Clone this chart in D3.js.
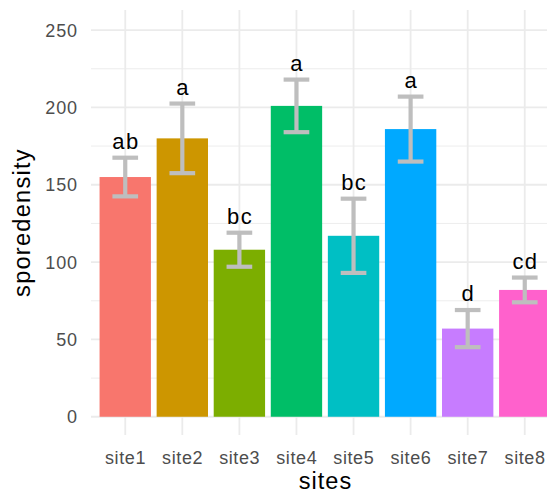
<!DOCTYPE html>
<html>
<head>
<meta charset="utf-8">
<script src="https://cdn.jsdelivr.net/npm/d3@7"></script>
<style>
  body { margin: 0; background: #fff; }
  svg { display: block; font-family: "Liberation Sans", Arial, sans-serif; }
</style>
</head>
<body>
<script>
// chart data
var sites = ["site1", "site2", "site3", "site4", "site5", "site6", "site7", "site8"];
var means = [155, 180, 108, 201, 117, 186, 57, 82];
var errors = [12.5, 22.5, 11, 17, 24, 21, 12, 8];
var letters = ["ab", "a", "bc", "a", "bc", "a", "d", "cd"];
var colors = ["#F8766D", "#CD9600", "#7CAE00", "#00BE67", "#00BFC4", "#00A9FF", "#C77CFF", "#FF61CC"];
var yTicks = [0, 50, 100, 150, 200, 250];
var yMinor = [25, 75, 125, 175, 225];

var width = 547, height = 494;
var panel = { left: 91, top: 10, right: 559, bottom: 435 };

var svg = d3.select("body").append("svg")
    .attr("width", width)
    .attr("height", height);

// ggplot's discrete axis: 0.6 units on each side
var step = (panel.right - panel.left) / (sites.length + 0.2);
var x = d3.scaleBand()
    .domain(sites)
    .range([panel.left + 0.1 * step, panel.right - 0.1 * step])
    .padding(0);

var y = d3.scaleLinear()
    .domain([-11.8, 263])
    .range([panel.bottom, panel.top]);

function cx(d) { return x(d) + x.bandwidth() / 2; }

var grid = svg.append("g");

grid.selectAll(".minor")
  .data(yMinor)
  .enter().append("line")
    .attr("x1", panel.left).attr("x2", panel.right)
    .attr("y1", function(d) { return y(d); })
    .attr("y2", function(d) { return y(d); })
    .attr("stroke", "#EBEBEB")
    .attr("stroke-width", 0.9);

grid.selectAll(".major")
  .data(yTicks)
  .enter().append("line")
    .attr("x1", panel.left).attr("x2", panel.right)
    .attr("y1", function(d) { return y(d); })
    .attr("y2", function(d) { return y(d); })
    .attr("stroke", "#EBEBEB")
    .attr("stroke-width", 1.8);

grid.selectAll(".vmajor")
  .data(sites)
  .enter().append("line")
    .attr("x1", cx).attr("x2", cx)
    .attr("y1", panel.top).attr("y2", panel.bottom)
    .attr("stroke", "#EBEBEB")
    .attr("stroke-width", 1.8);

var barW = x.bandwidth() * 0.9;
var capW = x.bandwidth() * 0.45;

svg.selectAll(".bar")
  .data(sites)
  .enter().append("rect")
    .attr("x", function(d) { return cx(d) - barW / 2; })
    .attr("width", barW)
    .attr("y", function(d, i) { return y(means[i]); })
    .attr("height", function(d, i) { return y(0) - y(means[i]); })
    .attr("fill", function(d, i) { return colors[i]; });

var eb = svg.append("g")
    .attr("stroke", "#BEBEBE")
    .attr("stroke-width", 4.2);

sites.forEach(function(s, i) {
  var c = cx(s);
  var hi = y(means[i] + errors[i]), lo = y(means[i] - errors[i]);
  eb.append("line").attr("x1", c).attr("x2", c).attr("y1", hi).attr("y2", lo);
  eb.append("line").attr("x1", c - capW / 2).attr("x2", c + capW / 2).attr("y1", hi).attr("y2", hi);
  eb.append("line").attr("x1", c - capW / 2).attr("x2", c + capW / 2).attr("y1", lo).attr("y2", lo);
});

svg.selectAll(".letter")
  .data(letters)
  .enter().append("text")
    .attr("x", function(d, i) { return cx(sites[i]) + 0.7; })
    .attr("y", function(d, i) { return y(means[i] + errors[i]) - 9; })
    .attr("text-anchor", "middle")
    .attr("font-size", 22)
    .attr("letter-spacing", 1.4)
    .attr("fill", "#000")
    .text(function(d) { return d; });

// axes
svg.selectAll(".ytick")
  .data(yTicks)
  .enter().append("text")
    .attr("x", 78)
    .attr("y", function(d) { return y(d); })
    .attr("dy", "0.36em")
    .attr("text-anchor", "end")
    .attr("font-size", 18)
    .attr("letter-spacing", 0.9)
    .attr("fill", "#4D4D4D")
    .text(function(d) { return d; });

svg.selectAll(".xtick")
  .data(sites)
  .enter().append("text")
    .attr("x", function(d) { return cx(d) + 0.3; })
    .attr("y", 464)
    .attr("text-anchor", "middle")
    .attr("font-size", 18)
    .attr("letter-spacing", 0.6)
    .attr("fill", "#4D4D4D")
    .text(function(d) { return d; });

svg.append("text")
    .attr("x", (panel.left + panel.right) / 2 + 0.5)
    .attr("y", 488.5)
    .attr("text-anchor", "middle")
    .attr("font-size", 23.5)
    .attr("letter-spacing", 1)
    .attr("fill", "#000")
    .text("sites");

svg.append("text")
    .attr("transform", "translate(29.5," + (panel.top + panel.bottom) / 2 + ") rotate(-90)")
    .attr("text-anchor", "middle")
    .attr("font-size", 23.5)
    .attr("letter-spacing", 1.3)
    .attr("fill", "#000")
    .text("sporedensity");
</script>
</body>
</html>
